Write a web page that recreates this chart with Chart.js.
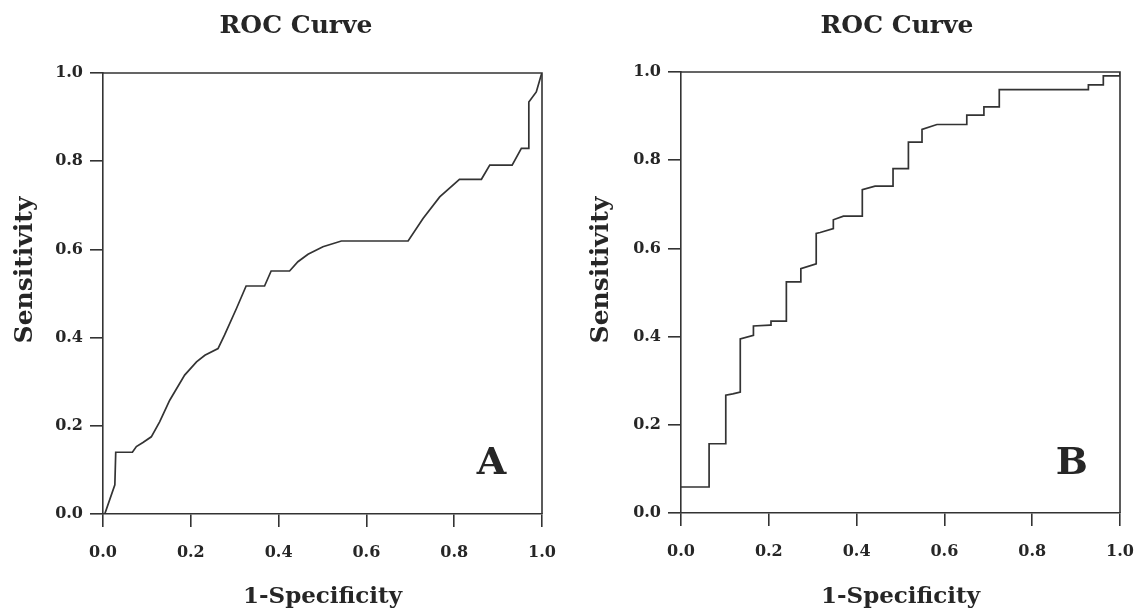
<!DOCTYPE html>
<html lang="en">
<head>
<meta charset="UTF-8">
<meta name="viewport" content="width=device-width, initial-scale=1.0">
<title>ROC Curve</title>
<style>
    body {
        margin: 0;
        background-color: #ffffff;
    }
    .panel {
        position: absolute;
        top: 0;
        width: 566px;
        height: 616px;
    }
    #panelA { left: 0; }
    #panelB { left: 578px; }
</style>
</head>
<body>
<div class="panel" id="panelA"><canvas id="rocA"></canvas></div>
<div class="panel" id="panelB"><canvas id="rocB"></canvas></div>

<script src="https://cdn.jsdelivr.net/npm/chart.js"></script>
<script>
// tick values shared by both axes of both panels
const tickValues = [0, 0.2, 0.4, 0.6, 0.8, 1.0];

// panel A: 1-specificity / sensitivity
const fprA = [0.004, 0.027, 0.029, 0.067, 0.076, 0.091, 0.110, 0.129, 0.152, 0.186, 0.213, 0.232,
              0.262, 0.277, 0.304, 0.326, 0.368, 0.383, 0.425, 0.444, 0.467, 0.501, 0.543, 0.695,
              0.729, 0.767, 0.812, 0.862, 0.881, 0.932, 0.953, 0.970, 0.970, 0.987, 0.998, 1.0];
const tprA = [0, 0.066, 0.140, 0.140, 0.153, 0.162, 0.175, 0.209, 0.258, 0.315, 0.345, 0.360,
              0.375, 0.406, 0.466, 0.517, 0.517, 0.551, 0.551, 0.572, 0.589, 0.606, 0.619, 0.619,
              0.670, 0.719, 0.759, 0.759, 0.791, 0.791, 0.829, 0.829, 0.934, 0.957, 0.995, 1.0];

// panel B
const fprB = [0, 0.064, 0.064, 0.102, 0.102, 0.118, 0.135, 0.135, 0.165, 0.165, 0.203, 0.205,
              0.240, 0.240, 0.273, 0.273, 0.308, 0.308, 0.317, 0.347, 0.347, 0.370, 0.413, 0.413,
              0.442, 0.483, 0.483, 0.518, 0.518, 0.549, 0.549, 0.583, 0.651, 0.651, 0.690, 0.690,
              0.725, 0.725, 0.928, 0.928, 0.962, 0.962, 1.0, 1.0];
const tprB = [0.059, 0.059, 0.157, 0.157, 0.267, 0.270, 0.274, 0.395, 0.403, 0.424, 0.426, 0.435,
              0.435, 0.524, 0.524, 0.554, 0.565, 0.634, 0.636, 0.645, 0.665, 0.673, 0.673, 0.733,
              0.741, 0.741, 0.781, 0.781, 0.841, 0.841, 0.870, 0.881, 0.881, 0.902, 0.902, 0.921,
              0.921, 0.960, 0.960, 0.971, 0.971, 0.991, 0.991, 1.0];

const chartTitle = 'ROC Curve';
const xTitle = '1-Specificity';
const yTitle = 'Sensitivity';

const ink = '#262626';
const lineInk = '#333333';
const serif = 'DejaVu Serif';

Chart.defaults.font.family = serif;
Chart.defaults.color = ink;

// title, rotated y title, panel letter and the top/right frame
const panelText = {
    id: 'panelText',
    afterDraw(chart, args, o) {
        const ctx = chart.ctx;
        const area = chart.chartArea;
        const sx = chart.scales.x, sy = chart.scales.y;

        ctx.save();
        ctx.strokeStyle = lineInk;
        ctx.lineWidth = 1.6;
        ctx.beginPath();
        ctx.moveTo(area.left, area.top);
        ctx.lineTo(area.right, area.top);
        ctx.lineTo(area.right, area.bottom);
        ctx.stroke();

        ctx.fillStyle = ink;
        ctx.textAlign = 'center';
        ctx.textBaseline = 'middle';
        ctx.font = 'bold 25px "' + serif + '"';
        ctx.fillText(chartTitle, o.titleX, o.titleY);

        ctx.font = 'bold 38px "' + serif + '"';
        ctx.fillText(o.letter, sx.getPixelForValue(o.letterAt[0]), sy.getPixelForValue(o.letterAt[1]));

        ctx.font = 'bold 25px "' + serif + '"';
        ctx.translate(o.yTitleX, o.yTitleY);
        ctx.rotate(-Math.PI / 2);
        ctx.fillText(yTitle, 0, 0);
        ctx.restore();
    }
};

function axis(extra) {
    return Object.assign({
        type: 'linear',
        min: 0,
        max: 1,
        afterBuildTicks: (scale) => {
            scale.ticks = tickValues.map(v => ({ value: v }));
        },
        grid: {
            drawOnChartArea: false,
            drawTicks: true,
            tickLength: 13,
            color: lineInk,
            lineWidth: 1.6
        },
        border: { display: true, color: lineInk, width: 1.6 }
    }, extra);
}

function makeRoc(id, fpr, tpr, cfg) {
    const points = fpr.map((x, i) => ({ x: x, y: tpr[i] }));
    return new Chart(document.getElementById(id), {
        type: 'scatter',
        data: {
            datasets: [{
                data: points,
                showLine: true,
                borderColor: lineInk,
                borderWidth: 1.7,
                pointRadius: 0,
                tension: 0,
                fill: false
            }]
        },
        options: {
            responsive: true,
            maintainAspectRatio: false,
            animation: false,
            layout: { padding: { top: cfg.top, right: 24, left: 0, bottom: 0 } },
            scales: {
                x: axis({
                    position: 'bottom',
                    ticks: {
                        // tall line box pushes the labels down without adding side padding
                        font: { size: 16, weight: 'bold', lineHeight: 3.25 },
                        color: ink,
                        padding: 0,
                        maxRotation: 0,
                        callback: (v) => Number(v).toFixed(1)
                    },
                    title: {
                        display: true,
                        text: xTitle,
                        color: ink,
                        font: { size: 23, weight: 'bold' },
                        padding: { top: 0, bottom: 5 }
                    },
                    afterFit: (scale) => { scale.height = cfg.xHeight; }
                }),
                y: axis({
                    position: 'left',
                    ticks: {
                        font: { size: 16, weight: 'bold' },
                        color: ink,
                        padding: 7,
                        callback: (v) => Number(v).toFixed(1)
                    },
                    afterFit: (scale) => { scale.width = 103; }
                })
            },
            plugins: {
                legend: { display: false },
                tooltip: { enabled: false },
                panelText: cfg
            }
        },
        plugins: [panelText]
    });
}

makeRoc('rocA', fprA, tprA, {
    top: 73, xHeight: 102,
    titleX: 296, titleY: 26,
    yTitleX: 25, yTitleY: 270,
    letter: 'A', letterAt: [0.885, 0.113]
});

makeRoc('rocB', fprB, tprB, {
    top: 72, xHeight: 103,
    titleX: 319, titleY: 26,
    yTitleX: 23, yTitleY: 270,
    letter: 'B', letterAt: [0.89, 0.11]
});
</script>
</body>
</html>
